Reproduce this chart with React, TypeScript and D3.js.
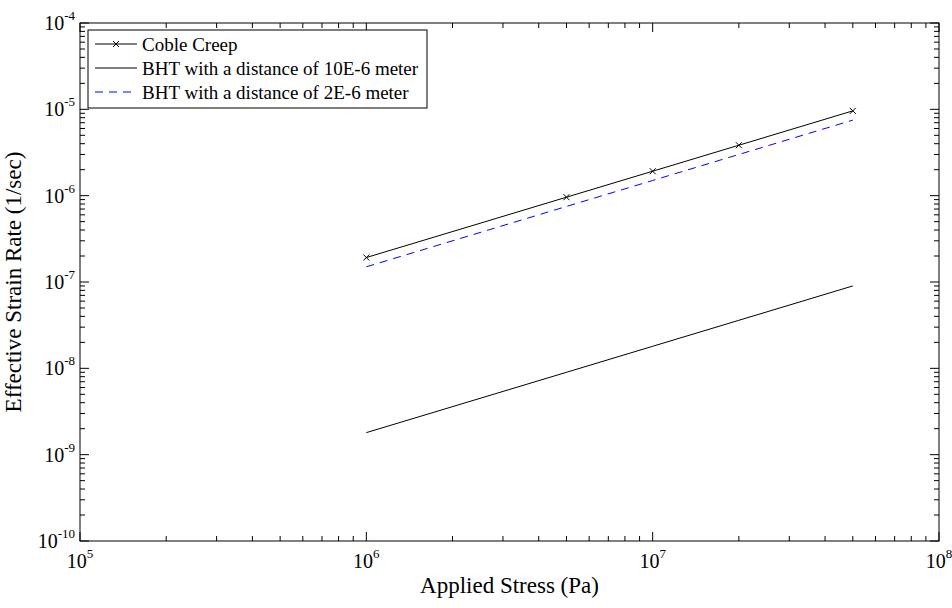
import React from "react";
import * as d3 from "d3";

const stressPa = [1e6, 5e6, 1e7, 2e7, 5e7];
const cobleCreep = [1.92e-7, 9.6e-7, 1.92e-6, 3.84e-6, 9.6e-6];
const bht10 = [1.8e-9, 9.0e-9, 1.8e-8, 3.6e-8, 9.0e-8];
const bht2 = [1.5e-7, 7.5e-7, 1.5e-6, 3.0e-6, 7.5e-6];

const xDecades = [5, 6, 7, 8];
const yDecades = [-10, -9, -8, -7, -6, -5, -4];
const legendLabels = [
  "Coble Creep",
  "BHT with a distance of 10E-6 meter",
  "BHT with a distance of 2E-6 meter",
];

const W = 952;
const H = 608;
const L = 80;
const R = 939;
const T = 23;
const B = 541;
const FONT = "'Liberation Serif', 'Times New Roman', serif";
const txt = { fontFamily: FONT };

export default function App() {
  const x = d3.scaleLog().domain([1e5, 1e8]).range([L, R]);
  const y = d3.scaleLog().domain([1e-10, 1e-4]).range([B, T]);

  const line = d3
    .line<[number, number]>()
    .x((d) => x(d[0]))
    .y((d) => y(d[1]));

  const series = [
    { vals: cobleCreep, color: "#000", dash: undefined as string | undefined, marker: true },
    { vals: bht10, color: "#000", dash: undefined, marker: false },
    { vals: bht2, color: "#0000ff", dash: "8,6", marker: false },
  ];

  const xMinor: number[] = [];
  for (let i = 0; i < xDecades.length - 1; i++) {
    for (let m = 2; m <= 9; m++) xMinor.push(m * Math.pow(10, xDecades[i]));
  }
  const yMinor: number[] = [];
  for (let i = 0; i < yDecades.length - 1; i++) {
    for (let m = 2; m <= 9; m++) yMinor.push(m * Math.pow(10, yDecades[i]));
  }

  const MAJ = 9;
  const MIN = 5;

  return (
    <svg
      width={W}
      height={H}
      style={{ position: "absolute", left: 0, top: 0, display: "block", background: "#fff" }}
    >
      <rect x={0} y={0} width={W} height={H} fill="#fff" />
      {series.map((s, i) => (
        <path
          key={i}
          d={line(stressPa.map((v, j) => [v, s.vals[j]] as [number, number])) || ""}
          fill="none"
          stroke={s.color}
          strokeWidth={1}
          strokeDasharray={s.dash}
        />
      ))}
      {stressPa.map((v, j) => {
        const cx = x(v);
        const cy = y(cobleCreep[j]);
        return (
          <path
            key={j}
            d={`M${cx - 3},${cy - 3}L${cx + 3},${cy + 3}M${cx - 3},${cy + 3}L${cx + 3},${cy - 3}`}
            stroke="#000"
            strokeWidth={1}
          />
        );
      })}

      <rect x={L} y={T} width={R - L} height={B - T} fill="none" stroke="#000" strokeWidth={1} />

      {xDecades.map((d) => {
        const px = x(Math.pow(10, d));
        return (
          <g key={"xm" + d}>
            <line x1={px} x2={px} y1={B} y2={B - MAJ} stroke="#000" />
            <line x1={px} x2={px} y1={T} y2={T + MAJ} stroke="#000" />
            <text x={px} y={568} textAnchor="middle" fontSize={20} fill="#000" style={txt}>
              10
              <tspan dy={-10} fontSize={13}>
                {d}
              </tspan>
            </text>
          </g>
        );
      })}
      {xMinor.map((v, i) => {
        const px = x(v);
        return (
          <g key={"xn" + i}>
            <line x1={px} x2={px} y1={B} y2={B - MIN} stroke="#000" />
            <line x1={px} x2={px} y1={T} y2={T + MIN} stroke="#000" />
          </g>
        );
      })}

      {yDecades.map((d) => {
        const py = y(Math.pow(10, d));
        return (
          <g key={"ym" + d}>
            <line x1={L} x2={L + MAJ} y1={py} y2={py} stroke="#000" />
            <line x1={R} x2={R - MAJ} y1={py} y2={py} stroke="#000" />
            <text x={75} y={py + 7} textAnchor="end" fontSize={20} fill="#000" style={txt}>
              10
              <tspan dy={-10} fontSize={13}>
                {d}
              </tspan>
            </text>
          </g>
        );
      })}
      {yMinor.map((v, i) => {
        const py = y(v);
        return (
          <g key={"yn" + i}>
            <line x1={L} x2={L + MIN} y1={py} y2={py} stroke="#000" />
            <line x1={R} x2={R - MIN} y1={py} y2={py} stroke="#000" />
          </g>
        );
      })}

      <text x={(L + R) / 2} y={593} textAnchor="middle" fontSize={23} fill="#000" style={txt}>
        Applied Stress (Pa)
      </text>
      <text
        transform={`translate(21,${(T + B) / 2}) rotate(-90)`}
        textAnchor="middle"
        fontSize={23}
        fill="#000"
        style={txt}
      >
        Effective Strain Rate (1/sec)
      </text>

      <rect x={88} y={30} width={339} height={78} fill="#fff" stroke="#000" strokeWidth={1} />
      {legendLabels.map((lab, i) => {
        const ly = 44 + i * 24;
        const s = series[i];
        return (
          <g key={"lg" + i}>
            <line x1={95} x2={137} y1={ly} y2={ly} stroke={s.color} strokeDasharray={s.dash} />
            {s.marker && (
              <path
                d={`M${116 - 3},${ly - 3}L${116 + 3},${ly + 3}M${116 - 3},${ly + 3}L${116 + 3},${ly - 3}`}
                stroke="#000"
              />
            )}
            <text x={142} y={ly + 6.5} fontSize={19} fill="#000" style={txt}>
              {lab}
            </text>
          </g>
        );
      })}
    </svg>
  );
}
